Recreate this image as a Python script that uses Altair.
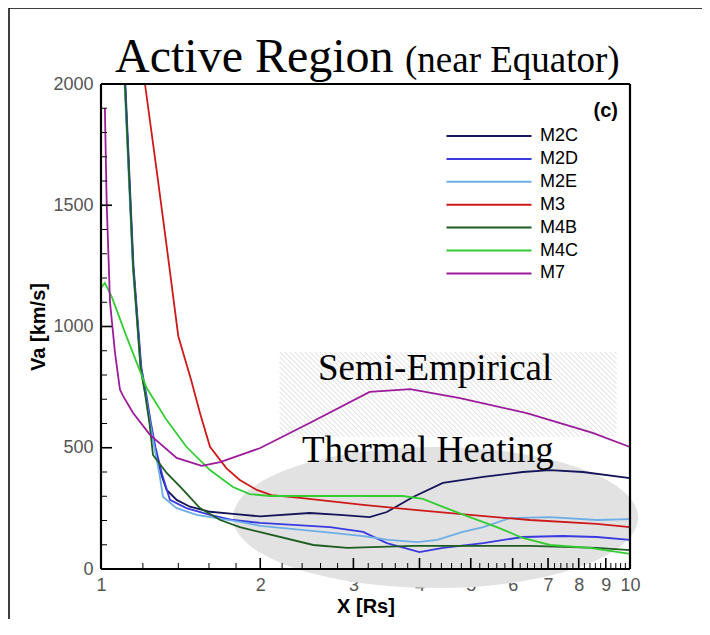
import altair as alt
import pandas as pd

# ---------------- data ----------------
series = ["M2C", "M2D", "M2E", "M3", "M4B", "M4C", "M7"]
colors = ["#15155a", "#3a3ae0", "#6eaee6", "#cc1a1a", "#1f5c1f", "#33cc33", "#9b1b9b"]

m2c_x = [1.11, 1.15, 1.19, 1.215, 1.24, 1.265, 1.30, 1.331, 1.39, 1.473, 1.607, 1.776, 2.0, 2.48, 2.83, 3.22, 3.47, 3.89, 4.43, 5.28, 6.27, 7.06, 8.15, 10.0]
m2c_v = [2000, 1250, 830, 720, 600, 500, 390, 326, 285, 257, 236, 227, 217, 231, 223, 214, 235, 297, 355, 380, 400, 408, 400, 375]

m2d_x = [1.112, 1.152, 1.192, 1.218, 1.243, 1.268, 1.305, 1.35, 1.45, 1.607, 1.776, 2.0, 2.71, 3.13, 3.47, 4.0, 4.43, 5.28, 6.27, 7.46, 8.65, 10.0]
m2d_v = [2000, 1250, 830, 720, 600, 500, 390, 285, 251, 223, 202, 190, 173, 153, 107, 70, 87, 107, 132, 136, 132, 120]

m2e_x = [1.108, 1.148, 1.188, 1.213, 1.238, 1.262, 1.29, 1.31, 1.39, 1.517, 1.655, 1.83, 2.0, 2.71, 3.13, 3.5, 3.96, 4.32, 4.83, 5.28, 5.93, 7.06, 8.65, 10.0]
m2e_v = [2000, 1250, 830, 720, 600, 500, 390, 297, 251, 223, 210, 194, 178, 150, 136, 120, 111, 120, 153, 173, 210, 214, 202, 206]

m3_x = [1.211, 1.274, 1.331, 1.40, 1.48, 1.54, 1.607, 1.727, 1.83, 1.97, 2.1, 2.38, 3.13, 3.96, 4.98, 6.47, 8.65, 10.0]
m3_v = [2000, 1645, 1330, 960, 780, 640, 504, 415, 367, 326, 305, 293, 264, 243, 223, 202, 186, 173]

m4b_x = [1.11, 1.15, 1.188, 1.212, 1.235, 1.254, 1.331, 1.43, 1.538, 1.68, 1.83, 2.0, 2.52, 2.92, 3.37, 3.89, 4.83, 6.47, 8.65, 10.0]
m4b_v = [2000, 1250, 830, 720, 600, 470, 396, 326, 251, 202, 173, 152, 99, 87, 91, 95, 95, 95, 87, 78]

m4c_x = [1.0, 1.017, 1.048, 1.118, 1.22, 1.331, 1.45, 1.607, 1.776, 1.91, 2.09, 2.71, 3.72, 4.06, 4.43, 4.98, 5.6, 6.27, 7.06, 8.4, 10.0]
m4c_v = [1160, 1180, 1122, 957, 746, 614, 504, 408, 338, 309, 301, 301, 301, 289, 256, 214, 173, 128, 99, 87, 62]

m7_x = [1.017, 1.025, 1.04, 1.063, 1.086, 1.10, 1.15, 1.238, 1.39, 1.55, 1.68, 2.0, 2.48, 3.22, 3.84, 4.77, 6.38, 8.5, 10.0]
m7_v = [1900, 1510, 1100, 890, 740, 715, 643, 553, 458, 425, 441, 499, 602, 730, 742, 705, 643, 561, 503]

# axis ticks
x_labels = [1, 2, 3, 4, 5, 6, 7, 8, 9, 10]
y_labels = [0, 500, 1000, 1500, 2000]
x_major_ticks = [2, 3, 4, 5, 6, 7, 8, 9]
x_minor_ticks = [round(i + f, 1) for i in range(1, 10) for f in (0.2, 0.4, 0.6, 0.8)]
y_major_ticks = [500, 1000, 1500]
y_minor_ticks = [v for v in range(100, 2000, 100) if v % 500 != 0]

# annotation regions (data coordinates)
hatch_center_x = [4.53]
hatch_center_v = [720]
ellipse_x = [4.29]
ellipse_v = [212]

# ---------------- build tables ----------------
W, H = 529, 485
XMIN, XMAX, YMIN, YMAX = 1, 10, 0, 2000
xscale = alt.Scale(type="log", domain=[XMIN, XMAX])
yscale = alt.Scale(domain=[YMIN, YMAX])

def xlen(px):
    return 10 ** (px / W)

def ylen(px):
    return px * (YMAX - YMIN) / H

rows = []
xs = [m2c_x, m2d_x, m2e_x, m3_x, m4b_x, m4c_x, m7_x]
vs = [m2c_v, m2d_v, m2e_v, m3_v, m4b_v, m4c_v, m7_v]
for name, xx, vv in zip(series, xs, vs):
    for a, b in zip(xx, vv):
        rows.append({"kind": name, "seg": name, "x": a, "v": b, "w": 1.8})

# plot box and inward ticks as black segments in the same table
def seg(sid, x1, v1, x2, v2, w):
    rows.append({"kind": "axis", "seg": sid, "x": x1, "v": v1, "w": w})
    rows.append({"kind": "axis", "seg": sid, "x": x2, "v": v2, "w": w})

seg("box_b", XMIN, YMIN, XMAX, YMIN, 2.2)
seg("box_t", XMIN, YMAX, XMAX, YMAX, 2.2)
seg("box_l", XMIN, YMIN, XMIN, YMAX, 2.2)
seg("box_r", XMAX, YMIN, XMAX, YMAX, 2.2)
for t in y_major_ticks:
    seg(f"ym{t}", XMIN, t, xlen(11), t, 1.6)
for t in y_minor_ticks:
    seg(f"yn{t}", XMIN, t, xlen(6), t, 1.0)
for t in x_major_ticks:
    seg(f"xm{t}", t, YMIN, t, ylen(11), 1.6)
for t in x_minor_ticks:
    seg(f"xn{t}", t, YMIN, t, ylen(6), 1.0)
df = pd.DataFrame(rows)

x_axis = alt.Axis(values=x_labels, format="d", grid=False, domain=False, ticks=False,
                  labelFont="Liberation Sans", labelFontSize=18, labelColor="#555555",
                  labelPadding=7, labelFlush=False,
                  titleFont="Liberation Sans", titleFontSize=20, titleFontWeight="bold",
                  titleColor="black", titlePadding=2)
y_axis = alt.Axis(values=y_labels, format="d", grid=False, domain=False, ticks=False,
                  labelFont="Liberation Sans", labelFontSize=18, labelColor="#555555",
                  labelPadding=8, labelFlush=False,
                  titleFont="Liberation Sans", titleFontSize=20, titleFontWeight="bold",
                  titleColor="black", titlePadding=4)
XT, YT = "X [Rs]", "Va [km/s]"

def X(field):
    return alt.X(field, scale=xscale, axis=x_axis, title=XT)

def Y(field):
    return alt.Y(field, scale=yscale, axis=y_axis, title=YT)

# ellipse (Thermal Heating)
ell_shape = "M-1,0A1,0.348,0,1,0,1,0A1,0.348,0,1,0,-1,0Z"
ellipse = alt.Chart(pd.DataFrame({"x": ellipse_x, "v": ellipse_v})).mark_point(
    shape=ell_shape, size=405 * 405, filled=True, color="#e2e2e2", opacity=1, strokeWidth=0
).encode(x=X("x:Q"), y=Y("v:Q"))

# hatched box (Semi-Empirical): a symbol made of 45-degree strokes
hw, hh = 337.0, 85.0
ry = hh / hw
step = 2 * 5.0 / hw
segs = []
c = -1 - 2 * ry
while c < 1:
    x0, y0 = c, -ry
    x1, y1 = c + 2 * ry, ry
    if x0 < -1:
        y0 = y0 + (-1 - x0); x0 = -1
    if x1 > 1:
        y1 = y1 - (x1 - 1); x1 = 1
    if x1 > x0:
        segs.append(f"M{x0:.4f},{y0:.4f}L{x1:.4f},{y1:.4f}")
    c += step
hatch_shape = "".join(segs)
hatch = alt.Chart(pd.DataFrame({"x": hatch_center_x, "v": hatch_center_v})).mark_point(
    shape=hatch_shape, size=hw * hw, filled=False, stroke="#d9d9d9", strokeWidth=1, opacity=1
).encode(x=X("x:Q"), y=Y("v:Q"))

lines = alt.Chart(df).mark_line().encode(
    x=X("x:Q"),
    y=Y("v:Q"),
    detail="seg:N",
    strokeWidth=alt.StrokeWidth("w:Q", scale=None),
    color=alt.Color("kind:N", scale=alt.Scale(domain=series + ["axis"], range=colors + ["black"]),
                    legend=alt.Legend(title=None, orient="none", legendX=376, legendY=40, values=series,
                                      symbolType="M-4,0L4,0", symbolSize=452, symbolStrokeWidth=2,
                                      labelFont="Liberation Sans", labelFontSize=18, labelColor="black",
                                      labelOffset=39, rowPadding=1.9, padding=0)),
)

def txt(t, x, y, size, font="Liberation Serif", weight="normal", align="left"):
    return alt.Chart(pd.DataFrame({"t": [t]})).mark_text(
        font=font, fontSize=size, fontWeight=weight, align=align, baseline="alphabetic", color="black"
    ).encode(text="t:N", x=alt.value(x), y=alt.value(y))

t1 = txt("Active Region", 14, -12, 48)
t2 = txt("(near Equator)", 304, -12, 37)
t3 = txt("Semi-Empirical", 217, 296, 37)
t4 = txt("Thermal Heating", 201, 378, 37)
t5 = txt("(c)", 517, 33, 20, font="Liberation Sans", weight="bold", align="right")

one = pd.DataFrame({"a": [0]})
def prule(x1, x2, y1, y2, sw):
    return alt.Chart(one).mark_rule(color="black", strokeWidth=sw).encode(
        x=alt.value(x1), x2=alt.value(x2), y=alt.value(y1), y2=alt.value(y2))

frame_top = prule(-92, 620, -76, -76, 1.5)
frame_left = prule(-92, -92, -76, 560, 1.5)

chart = alt.layer(ellipse, hatch, lines, t1, t2, t3, t4, t5, frame_top, frame_left).properties(
    width=W, height=H,
    background="white",
    autosize=alt.AutoSizeParams(type="none"),
    padding={"left": 93, "top": 76, "right": 72, "bottom": 50},
).configure_view(strokeWidth=0)

chart.save("out.html", embed_options={"renderer": "svg", "actions": False})
